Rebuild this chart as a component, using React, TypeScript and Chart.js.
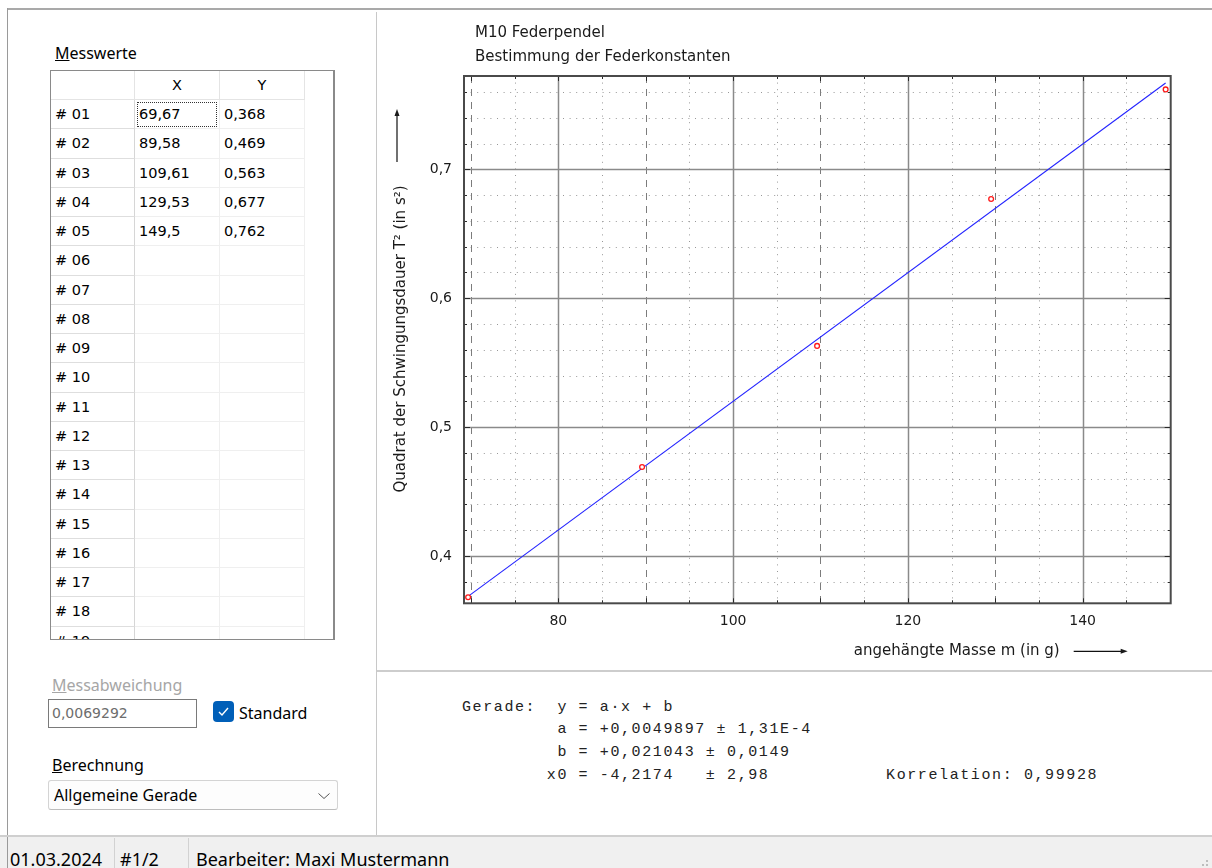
import React, { useEffect, useRef } from "react";
import { Chart, registerables } from "chart.js";

Chart.register(...registerables);

// ---------- data ----------
const CHART_TITLE = ["M10 Federpendel", "Bestimmung der Federkonstanten"];
const X_TITLE = "angehängte Masse m (in g)";
const Y_TITLE = "Quadrat der Schwingungsdauer T² (in s²)";

const ROW_LABELS = [
  "# 01", "# 02", "# 03", "# 04", "# 05", "# 06", "# 07", "# 08", "# 09", "# 10",
  "# 11", "# 12", "# 13", "# 14", "# 15", "# 16", "# 17", "# 18", "# 19",
];
const X_VALUES = [69.67, 89.58, 109.61, 129.53, 149.5];
const Y_VALUES = [0.368, 0.469, 0.563, 0.677, 0.762];

// regression line end points
const FIT_X = [69.67, 149.5];
const FIT_Y = [0.3687, 0.767];

const X_MIN = 69.2;
const X_MAX = 150.08;
const Y_MIN = 0.3633;
const Y_MAX = 0.7724;

const X_TICKS = [80, 100, 120, 140];
const Y_TICKS = [0.4, 0.5, 0.6, 0.7];
const X_GRID_DASHED = [70, 90, 110, 130];
const X_GRID_DOTTED = [75, 85, 95, 105, 115, 125, 135, 145];
const Y_GRID_DOTTED = [
  0.38, 0.42, 0.44, 0.46, 0.48, 0.52, 0.54, 0.56, 0.58, 0.62, 0.64, 0.66, 0.68, 0.72, 0.74, 0.76,
];

const RESULT_LINES = [
  "Gerade:  y = a·x + b",
  "         a = +0,0049897 ± 1,31E-4",
  "         b = +0,021043 ± 0,0149",
  "        x0 = -4,2174   ± 2,98           Korrelation: 0,99928",
];

const MESSABWEICHUNG = "0,0069292";
const BERECHNUNG = "Allgemeine Gerade";
const STATUS_ITEMS = ["01.03.2024", "#1/2", "Bearbeiter: Maxi Mustermann"];

const fmt = (v: number) => String(v).replace(".", ",");

// ---------- chart decoration plugin ----------
const decorPlugin = {
  id: "decor",
  beforeDatasetsDraw(chart: any) {
    const { ctx, chartArea: a } = chart;
    const xs = chart.scales.x;
    const ys = chart.scales.y;
    const px = (v: number) => Math.round(xs.getPixelForValue(v)) + 0.5;
    const py = (v: number) => Math.round(ys.getPixelForValue(v)) + 0.5;
    ctx.save();
    ctx.beginPath();
    ctx.rect(a.left, a.top, a.right - a.left, a.bottom - a.top);
    ctx.clip();
    const vline = (v: number) => {
      ctx.beginPath();
      ctx.moveTo(px(v), a.top);
      ctx.lineTo(px(v), a.bottom);
      ctx.stroke();
    };
    const hline = (v: number) => {
      ctx.beginPath();
      ctx.moveTo(a.left, py(v));
      ctx.lineTo(a.right, py(v));
      ctx.stroke();
    };
    ctx.lineWidth = 1;
    ctx.strokeStyle = "#989898";
    ctx.setLineDash([1, 5.6]);
    X_GRID_DOTTED.forEach(vline);
    Y_GRID_DOTTED.forEach(hline);
    ctx.strokeStyle = "#7c7c7c";
    ctx.setLineDash([7, 6]);
    X_GRID_DASHED.forEach(vline);
    ctx.setLineDash([]);
    ctx.strokeStyle = "#8a8a8a";
    ctx.lineWidth = 1.5;
    X_TICKS.forEach(vline);
    Y_TICKS.forEach(hline);
    ctx.restore();
  },
  afterDatasetsDraw(chart: any) {
    const { ctx, chartArea: a } = chart;
    const xs = chart.scales.x;
    const ys = chart.scales.y;
    const px = (v: number) => Math.round(xs.getPixelForValue(v)) + 0.5;
    const py = (v: number) => Math.round(ys.getPixelForValue(v)) + 0.5;
    ctx.save();
    ctx.strokeStyle = "#2a2a2a";
    ctx.lineWidth = 1;
    const xt = (v: number, len: number) => {
      ctx.beginPath();
      ctx.moveTo(px(v), a.top);
      ctx.lineTo(px(v), a.top + len);
      ctx.moveTo(px(v), a.bottom);
      ctx.lineTo(px(v), a.bottom - len);
      ctx.stroke();
    };
    const yt = (v: number, len: number) => {
      ctx.beginPath();
      ctx.moveTo(a.left, py(v));
      ctx.lineTo(a.left + len, py(v));
      ctx.moveTo(a.right, py(v));
      ctx.lineTo(a.right - len, py(v));
      ctx.stroke();
    };
    X_TICKS.forEach((v) => xt(v, 5));
    X_GRID_DASHED.forEach((v) => xt(v, 5));
    X_GRID_DOTTED.forEach((v) => xt(v, 3));
    Y_TICKS.forEach((v) => yt(v, 6));
    Y_GRID_DOTTED.forEach((v) => yt(v, 3));
    ctx.lineWidth = 2;
    ctx.strokeStyle = "#4a4a4a";
    ctx.strokeRect(a.left, a.top, a.right - a.left, a.bottom - a.top);
    ctx.restore();
  },
  afterDraw(chart: any) {
    const { ctx, chartArea: a } = chart;
    ctx.save();
    ctx.fillStyle = "#1a1a1a";
    ctx.strokeStyle = "#111";
    ctx.font = '15px "DejaVu Sans"';
    ctx.textBaseline = "alphabetic";
    ctx.textAlign = "left";
    ctx.fillText(CHART_TITLE[0], a.left + 11, 25);
    ctx.fillText(CHART_TITLE[1], a.left + 11, 49);

    // x axis title + arrow
    const ay = a.bottom + 47.5;
    const arrowEnd = a.right - 43;
    const arrowStart = arrowEnd - 54;
    ctx.textAlign = "right";
    ctx.textBaseline = "middle";
    ctx.fillText(X_TITLE, arrowStart - 14, ay);
    ctx.lineWidth = 1.2;
    ctx.beginPath();
    ctx.moveTo(arrowStart, ay + 0.5);
    ctx.lineTo(arrowEnd - 4, ay + 0.5);
    ctx.stroke();
    ctx.beginPath();
    ctx.moveTo(arrowEnd, ay + 0.5);
    ctx.lineTo(arrowEnd - 7, ay - 2);
    ctx.lineTo(arrowEnd - 7, ay + 3);
    ctx.closePath();
    ctx.fill();

    // y axis title + arrow
    const tc = 327;
    ctx.save();
    ctx.translate(25, tc);
    ctx.rotate(-Math.PI / 2);
    ctx.textAlign = "center";
    ctx.textBaseline = "alphabetic";
    ctx.fillText(Y_TITLE, 0, 0);
    ctx.restore();
    const ax = 17;
    ctx.beginPath();
    ctx.moveTo(ax, 150);
    ctx.lineTo(ax, 102);
    ctx.stroke();
    ctx.beginPath();
    ctx.moveTo(ax, 97);
    ctx.lineTo(ax - 2.5, 104);
    ctx.lineTo(ax + 2.5, 104);
    ctx.closePath();
    ctx.fill();
    ctx.restore();
  },
};

function PlotCanvas() {
  const ref = useRef<HTMLCanvasElement | null>(null);
  useEffect(() => {
    if (!ref.current) return;
    const chart = new Chart(ref.current, {
      type: "scatter",
      data: {
        datasets: [
          {
            label: "Messwerte",
            data: X_VALUES.map((x, i) => ({ x, y: Y_VALUES[i] })),
            showLine: false,
            pointRadius: 2.4,
            pointBorderWidth: 1.3,
            pointBorderColor: "#ff1a1a",
            pointBackgroundColor: "#ffffff",
            order: 1,
          },
          {
            label: "Gerade",
            data: FIT_X.map((x, i) => ({ x, y: FIT_Y[i] })),
            showLine: true,
            borderColor: "#2323ff",
            borderWidth: 1.1,
            pointRadius: 0,
            order: 2,
          },
        ],
      },
      options: {
        responsive: false,
        animation: false,
        events: [],
        layout: { padding: { top: 64, right: 41.3, left: 0, bottom: 0 } },
        plugins: {
          legend: { display: false },
          tooltip: { enabled: false },
          title: { display: false },
        },
        scales: {
          x: {
            type: "linear",
            min: X_MIN,
            max: X_MAX,
            grid: { display: false, drawTicks: false },
            border: { display: false },
            afterBuildTicks: (s: any) => {
              s.ticks = X_TICKS.map((v) => ({ value: v }));
            },
            afterFit: (s: any) => {
              s.height = 64.7;
            },
            ticks: {
              padding: 10,
              autoSkip: false,
              maxRotation: 0,
              color: "#1a1a1a",
              font: { family: "DejaVu Sans", size: 14 },
              callback: (v: any) => fmt(Number(v)),
            },
          },
          y: {
            type: "linear",
            min: Y_MIN,
            max: Y_MAX,
            grid: { display: false, drawTicks: false },
            border: { display: false },
            afterBuildTicks: (s: any) => {
              s.ticks = Y_TICKS.map((v) => ({ value: v }));
            },
            afterFit: (s: any) => {
              s.width = 84;
            },
            ticks: {
              padding: 12,
              autoSkip: false,
              color: "#1a1a1a",
              font: { family: "DejaVu Sans", size: 14 },
              callback: (v: any) => Number(v).toFixed(1).replace(".", ","),
            },
          },
        },
      },
      plugins: [decorPlugin],
    } as any);
    return () => chart.destroy();
  }, []);
  return (
    <canvas
      ref={ref}
      width={832}
      height={656}
      style={{ position: "absolute", left: 380, top: 12, width: 832, height: 656 }}
    />
  );
}

function Label({ x, cy, size = 16, color = "#000", font = '"Noto Sans"', children }: any) {
  const h = 24;
  return (
    <div
      style={{
        position: "absolute",
        left: x,
        top: cy - h / 2,
        height: h,
        lineHeight: h + "px",
        fontSize: size,
        fontFamily: font,
        color,
        whiteSpace: "pre",
      }}
    >
      {children}
    </div>
  );
}

function DataTable() {
  const COLW = [84, 85, 85];
  const COLX = [0, 84, 169];
  const HEAD_H = 29;
  const ROW_H = 29.25;
  const cellFont = { fontFamily: '"DejaVu Sans"', fontSize: 14.5, color: "#000" };
  const cells: any[] = [];
  // header
  ["", "X", "Y"].forEach((t, c) => {
    cells.push(
      <div
        key={"h" + c}
        style={{
          position: "absolute",
          left: COLX[c],
          top: 0,
          width: COLW[c],
          height: HEAD_H,
          boxSizing: "border-box",
          borderRight: "1px solid #e4e4e4",
          borderBottom: "1px solid #e4e4e4",
          textAlign: "center",
          lineHeight: HEAD_H + "px",
          ...cellFont,
        }}
      >
        {t}
      </div>
    );
  });
  ROW_LABELS.forEach((lab, r) => {
    const top = HEAD_H + r * ROW_H;
    const vals = [lab, r < X_VALUES.length ? fmt(X_VALUES[r]) : "", r < Y_VALUES.length ? fmt(Y_VALUES[r]) : ""];
    vals.forEach((t, c) => {
      cells.push(
        <div
          key={r + "_" + c}
          style={{
            position: "absolute",
            left: COLX[c],
            top,
            width: COLW[c],
            height: ROW_H,
            boxSizing: "border-box",
            borderRight: c === 0 ? "1px solid #d6d6d6" : "1px solid #efefef",
            borderBottom: c === 0 ? "1px solid #dedede" : "1px solid #efefef",
            paddingLeft: 4,
            lineHeight: ROW_H + "px",
            ...cellFont,
          }}
        >
          {t}
          {r === 0 && c === 1 ? (
            <div
              style={{
                position: "absolute",
                left: 2,
                top: 2,
                right: 2,
                bottom: 1,
                border: "1px dotted #333",
              }}
            />
          ) : null}
        </div>
      );
    });
  });
  return (
    <div
      style={{
        position: "absolute",
        left: 50,
        top: 70,
        width: 285,
        height: 570,
        boxSizing: "border-box",
        border: "1px solid #8a8a8a",
        borderRight: "2px solid #8a8a8a",
        overflow: "hidden",
        background: "#fff",
      }}
    >
      {cells}
    </div>
  );
}

export default function App() {
  useEffect(() => {
    document.body.style.margin = "0";
  }, []);
  return (
    <div
      style={{
        position: "fixed",
        left: 0,
        top: 0,
        width: 1212,
        height: 868,
        background: "#ffffff",
        overflow: "hidden",
        fontFamily: '"Noto Sans"',
      }}
    >
      {/* frame lines */}
      <div style={{ position: "absolute", left: 7, top: 8, width: 1205, height: 2, background: "#a9a9a9" }} />
      <div style={{ position: "absolute", left: 7, top: 8, width: 1, height: 860, background: "#9a9a9a" }} />
      <div style={{ position: "absolute", left: 376, top: 12, width: 1, height: 824, background: "#c8c8c8" }} />
      <div style={{ position: "absolute", left: 377, top: 670, width: 835, height: 2, background: "#cdcdcd" }} />

      {/* left panel */}
      <Label x={55} cy={53}>
        <u>M</u>esswerte
      </Label>
      <DataTable />

      <Label x={52} cy={685} color="#a6a6a6">
        <u>M</u>essabweichung
      </Label>
      <div
        style={{
          position: "absolute",
          left: 48,
          top: 699,
          width: 149,
          height: 29,
          boxSizing: "border-box",
          border: "1px solid #7a7a7a",
          background: "#fff",
        }}
      >
        <div
          style={{
            position: "absolute",
            left: 3,
            top: 0,
            lineHeight: "27px",
            fontFamily: '"DejaVu Sans"',
            fontSize: 14,
            color: "#6d6d6d",
          }}
        >
          {MESSABWEICHUNG}
        </div>
      </div>
      <div
        style={{
          position: "absolute",
          left: 213,
          top: 701,
          width: 21,
          height: 21,
          borderRadius: 4,
          background: "#005fb8",
        }}
      >
        <svg width="21" height="21" style={{ position: "absolute", left: 0, top: 0 }}>
          <polyline points="6,11 9,14 15,7" fill="none" stroke="#ffffff" strokeWidth="1.4" />
        </svg>
      </div>
      <Label x={239} cy={713}>
        Standard
      </Label>

      <Label x={52} cy={765}>
        <u>B</u>erechnung
      </Label>
      <div
        style={{
          position: "absolute",
          left: 48,
          top: 780,
          width: 290,
          height: 30,
          boxSizing: "border-box",
          border: "1px solid #d4d4d4",
          borderBottom: "1px solid #bdbdbd",
          borderRadius: 3,
          background: "#fdfdfd",
        }}
      >
        <div style={{ position: "absolute", left: 5, top: 0, lineHeight: "28px", fontSize: 16, color: "#000" }}>
          {BERECHNUNG}
        </div>
        <svg width="14" height="10" style={{ position: "absolute", left: 268, top: 10 }}>
          <polyline points="1.5,2.5 7,7.5 12.5,2.5" fill="none" stroke="#555" strokeWidth="1" />
        </svg>
      </div>

      {/* chart */}
      <PlotCanvas />

      {/* regression results */}
      <pre
        style={{
          position: "absolute",
          left: 462,
          top: 696.5,
          margin: 0,
          fontFamily: '"Liberation Mono"',
          fontSize: 15,
          letterSpacing: "1.6px",
          lineHeight: "22.7px",
          color: "#222",
        }}
      >
        {RESULT_LINES.join("\n")}
      </pre>

      {/* status bar */}
      <div
        style={{
          position: "absolute",
          left: 0,
          top: 835,
          width: 1212,
          height: 33,
          background: "#f0f0f0",
          borderTop: "2px solid #cfcfcf",
          boxSizing: "border-box",
        }}
      />
      <div style={{ position: "absolute", left: 7, top: 837, width: 1, height: 31, background: "#9a9a9a" }} />
      <div style={{ position: "absolute", left: 114, top: 838, width: 1, height: 30, background: "#d2d2d2" }} />
      <div style={{ position: "absolute", left: 188, top: 838, width: 1, height: 30, background: "#d2d2d2" }} />
      <Label x={10} cy={858.5} size={18}>
        {STATUS_ITEMS[0]}
      </Label>
      <Label x={120} cy={858.5} size={18}>
        {STATUS_ITEMS[1]}
      </Label>
      <Label x={196} cy={858.5} size={18}>
        {STATUS_ITEMS[2]}
      </Label>
      <div style={{ position: "absolute", left: 1206, top: 860, width: 2, height: 2, background: "#bdbdbd" }} />
      <div style={{ position: "absolute", left: 1206, top: 864, width: 2, height: 2, background: "#bdbdbd" }} />
      <div style={{ position: "absolute", left: 1202, top: 864, width: 2, height: 2, background: "#bdbdbd" }} />
    </div>
  );
}
